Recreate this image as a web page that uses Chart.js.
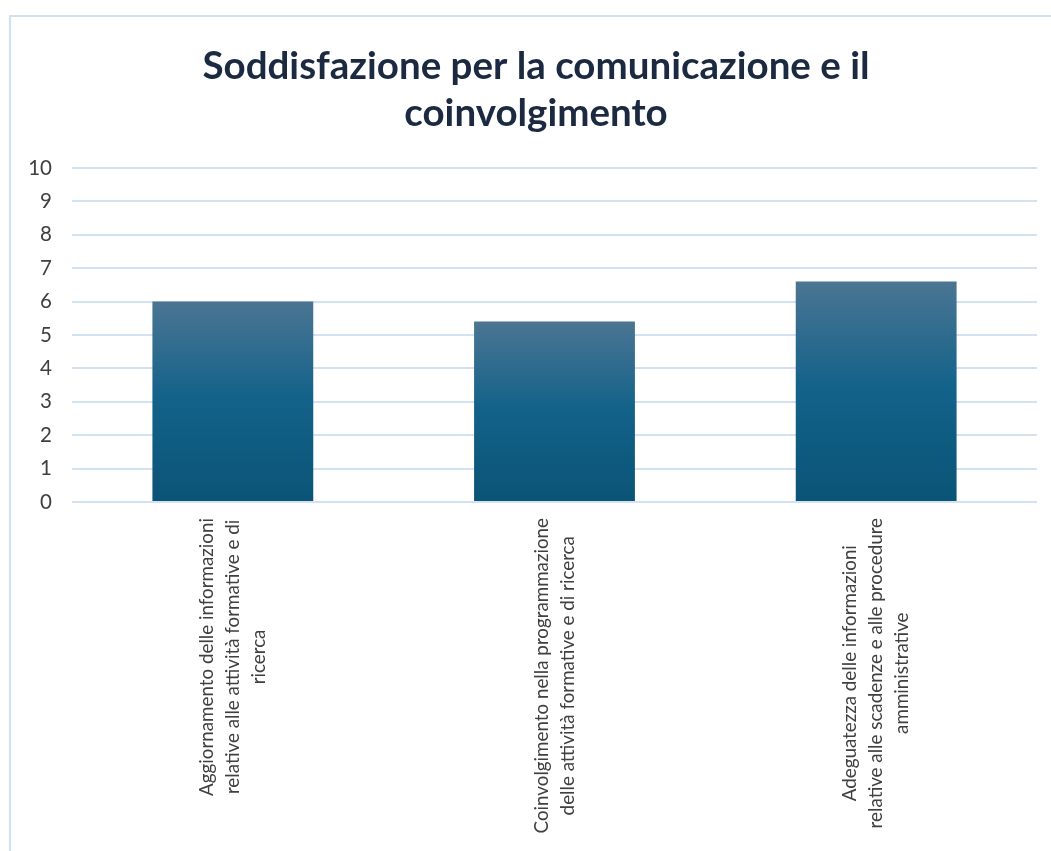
<!DOCTYPE html>
<html><head><meta charset="utf-8">
<script src="https://cdn.jsdelivr.net/npm/chart.js@4"></script>
<style>
html,body{margin:0;padding:0;background:#fff;width:1051px;height:851px;overflow:hidden}
#frame{position:absolute;left:9px;top:15px;width:1100px;height:900px;border-top:2px solid #d0e1f3;border-left:2px solid #d0e1f3}
#wrap{position:absolute;left:0;top:0;width:1051px;height:851px}
</style></head><body>
<div id="frame"></div>
<div id="wrap"><canvas id="c" width="1051" height="851"></canvas></div>
<script>
const titleLines = ['Soddisfazione per la comunicazione e il', 'coinvolgimento'];
const categories = [
  ['Aggiornamento delle informazioni', 'relative alle attività formative e di', 'ricerca'],
  ['Coinvolgimento nella programmazione', 'delle attività formative e di ricerca'],
  ['Adeguatezza delle informazioni', 'relative alle scadenze e alle procedure', 'amministrative']
];
const values = [6.0, 5.4, 6.6];
const yTickLabels = ['0','1','2','3','4','5','6','7','8','9','10'];

const centerLabels = {
  id: 'centerLabels',
  afterLayout(chart) {
    if (chart.titleBlock) { chart.titleBlock.left += 15; }
  },
  beforeDraw(chart) {
    const sc = chart.scales.x;
    if (!sc || !sc.getLabelItems) return;
    const items = sc.getLabelItems();
    const ctx = chart.ctx;
    items.forEach(it => {
      if (it._c) return;
      it._c = true;
      const lines = Array.isArray(it.label) ? it.label : [it.label];
      ctx.save(); ctx.font = it.font.string;
      const w = Math.max(...lines.map(l => ctx.measureText(l).width));
      ctx.restore();
      const lh = it.font.lineHeight;
      it.options.textAlign = 'center';
      it.options.translation[1] += w / 2;
      it.options.translation[0] -= (lines.length - 1) * lh / 2;
    });
  }
};

function barGradient(c) {
  const ch = c.chart, ys = ch.scales.y;
  if (!ys || c.raw == null || !ch.chartArea) return '#14628a';
  const top = ys.getPixelForValue(c.raw), base = ys.getPixelForValue(0);
  if (!isFinite(top) || !isFinite(base)) return '#14628a';
  const g = ch.ctx.createLinearGradient(0, top, 0, base);
  g.addColorStop(0, '#4b7592');
  g.addColorStop(0.48, '#13628a');
  g.addColorStop(1, '#0a5476');
  return g;
}

new Chart(document.getElementById('c'), {
  type: 'bar',
  data: {
    labels: categories,
    datasets: [{
      data: values,
      backgroundColor: barGradient,
      borderWidth: 0,
      barPercentage: 0.5,
      categoryPercentage: 1.0
    }]
  },
  plugins: [centerLabels],
  options: {
    responsive: false,
    animation: false,
    layout: { padding: { left: 20, right: 14, top: 0, bottom: 0 } },
    plugins: {
      legend: { display: false },
      tooltip: { enabled: false },
      title: {
        display: true,
        text: titleLines,
        color: '#1b2a41',
        font: { family: 'Lato', size: 38.5, weight: 'bold', lineHeight: 1.22 },
        padding: { top: 43.5, bottom: 30.5 }
      }
    },
    scales: {
      x: {
        grid: { display: false },
        border: { display: false },
        afterFit: s => { s.height = 349; },
        ticks: {
          color: '#404040',
          font: { family: 'Lato', size: 18.8, lineHeight: 1.38 },
          minRotation: 90, maxRotation: 90,
          autoSkip: false,
          padding: 8
        }
      },
      y: {
        min: 0, max: 10,
        afterFit: s => { s.width = 52; },
        border: { display: false },
        grid: { color: '#d3e2f3', lineWidth: 2, drawTicks: false },
        ticks: {
          stepSize: 1,
          color: '#404040',
          font: { family: 'Lato', size: 20.5 },
          padding: 20,
          callback: (v, i) => yTickLabels[i]
        }
      }
    }
  }
});
</script>
</body></html>
